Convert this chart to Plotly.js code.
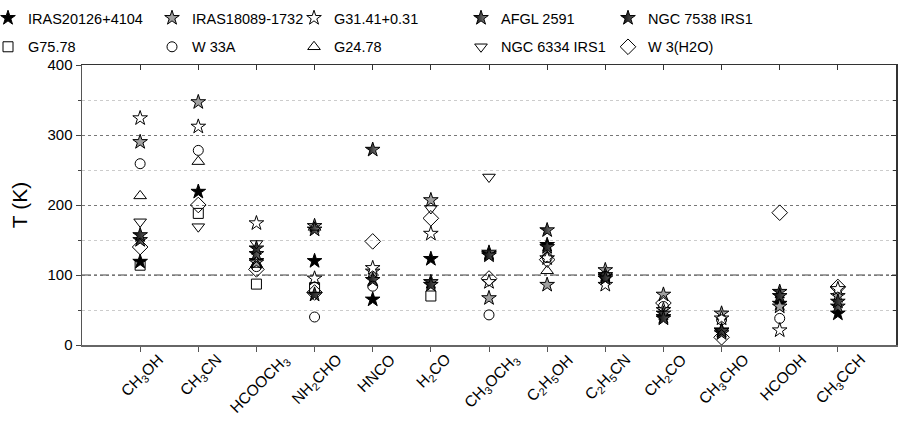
<!DOCTYPE html>
<html><head><meta charset="utf-8">
<script src="https://cdn.plot.ly/plotly-3.0.1.min.js"></script>
<style>html,body{margin:0;padding:0;background:#fff}#chart{width:899px;height:421px}</style>
</head><body><div id="chart"></div>
<script>
const categories = ["CH<sub>3</sub>OH","CH<sub>3</sub>CN","HCOOCH<sub>3</sub>","NH<sub>2</sub>CHO","HNCO","H<sub>2</sub>CO","CH<sub>3</sub>OCH<sub>3</sub>","C<sub>2</sub>H<sub>5</sub>OH","C<sub>2</sub>H<sub>5</sub>CN","CH<sub>2</sub>CO","CH<sub>3</sub>CHO","HCOOH","CH<sub>3</sub>CCH"];
const sourceNames = ["IRAS20126+4104","IRAS18089-1732","G31.41+0.31","AFGL 2591","NGC 7538 IRS1","G75.78","W 33A","G24.78","NGC 6334 IRS1","W 3(H2O)"];
const IRAS20126 = [119, 219, 120, 120, 65, 123, 130, 143, 98, 40, 21, 59, 45];
const IRAS18089 = [290, 347, 118, 170, 105, 207, 67, 86, 107, 72, 45, 55, 70];
const G31 = [324, 312, 174, 95, 110, 159, 90, 124, 86, 50, 38, 21, 80];
const AFGL2591 = [150, null, 130, 165, 279, 90, 132, 164, 100, 45, 17, 76, 55];
const NGC7538 = [157, null, 138, 72, 93, 86, 128, 140, 95, 38, 20, 70, 62];
const G75 = [114, 188, 87, 82, null, 70, null, null, null, null, null, null, null];
const W33A = [259, 278, 112, 40, 84, null, 43, 125, 98, 55, 36, 38, null];
const G24 = [213, 262, 115, 168, null, null, null, 106, null, null, null, null, null];
const NGC6334 = [176, 169, 145, null, null, 195, 240, null, null, null, null, null, null];
const W3 = [140, 200, 108, 75, 148, 181, 95, 122, null, 60, 11, 189, 83];
const yTicks = [0, 100, 200, 300, 400];

const seriesData = [IRAS20126, IRAS18089, G31, AFGL2591, NGC7538, G75, W33A, G24, NGC6334, W3];
const styles = [
  {symbol:'star', color:'#000', size:11},
  {symbol:'star', color:'#a0a0a0', size:11},
  {symbol:'star', color:'#fff', size:11},
  {symbol:'star', color:'#000', size:11, gradient:{type:'horizontal', color:'#999'}},
  {symbol:'star', color:'#000', size:11, gradient:{type:'horizontal', color:'#666'}},
  {symbol:'square-open', color:'#000', size:10},
  {symbol:'circle-open', color:'#000', size:10},
  {symbol:'triangle-up-open', color:'#000', size:11},
  {symbol:'triangle-down-open', color:'#000', size:11},
  {symbol:'diamond-open', color:'#000', size:12}
];
const legendCol = [1,2,3,4,5,1,2,3,4,5];
const xIdx = categories.map((c,i)=>i);
const traces = seriesData.map((vals, k) => {
  const st = styles[k];
  const marker = {symbol: st.symbol, size: st.size, color: st.color,
    line: {color:'#000', width:1}};
  if (st.gradient) marker.gradient = st.gradient;
  const col = legendCol[k];
  return {type:'scatter', mode:'markers', name: sourceNames[k], x: xIdx, y: vals,
    marker, legend: col === 1 ? 'legend' : 'legend' + col, legendgroup: 'g' + k,
    cliponaxis:false, hoverinfo:'skip'};
});
traces.push({type:'scatter', mode:'markers', x:[0], y:[0], xaxis:'x2', yaxis:'y2',
  marker:{opacity:0}, showlegend:false, hoverinfo:'skip'});

const FONT = 'Arial, "Liberation Sans", sans-serif';
const legendBase = {orientation:'v', xanchor:'left', yanchor:'top', y:1.225,
  font:{family:FONT, size:14.5, color:'#000'}, bgcolor:'rgba(0,0,0,0)', borderwidth:0,
  tracegroupgap:7, itemwidth:30};
const colX = [10, 174, 316, 483, 630];
const toPaperX = px => (px - 22 - 82) / 814;

const catLabels = categories.map((c, i) => ({
  xref:'x', yref:'paper', x:i, y:0, yshift:-3, xshift:3, xanchor:'center', yanchor:'top',
  text:c, textangle:-45, showarrow:false,
  font:{family:FONT, size:15.5, color:'#000'}
}));

const layout = {
  width: 899, height: 421,
  margin: {l:82, r:3, t:65, b:76, autoexpand:false},
  paper_bgcolor:'#fff', plot_bgcolor:'#fff',
  font: {family: FONT, color:'#000'},
  showlegend: true,
  xaxis: {range:[-1, 13], tickvals: xIdx, showticklabels:false, ticks:'outside', ticklen:5, tickcolor:'#555',
    showline:true, linecolor:'#666', linewidth:2, showgrid:false, zeroline:false, fixedrange:true},
  xaxis2: {range:[-1, 13], overlaying:'x', side:'top', tickvals: xIdx, showticklabels:false,
    ticks:'inside', ticklen:5, tickcolor:'#333', showline:true, linecolor:'#333', linewidth:1.5,
    showgrid:false, zeroline:false},
  yaxis: {range:[0, 400], tickvals: yTicks, ticks:'outside', ticklen:5, tickcolor:'#444',
    tickfont:{family:FONT, size:15, color:'#000'},
    showline:true, linecolor:'#555', linewidth:1.5, zeroline:false,
    showgrid:true, gridcolor:'#777', griddash:'dot', gridwidth:1,
    minor:{dtick:50, ticks:'outside', ticklen:3, tickcolor:'#444', showgrid:true, gridcolor:'#ccc', griddash:'dot', gridwidth:1},
    title:{text:'T (K)', font:{family:FONT, size:21, color:'#000'}, standoff:14}},
  yaxis2: {range:[0, 400], overlaying:'y', side:'right', tickvals: yTicks, showticklabels:false,
    ticks:'inside', ticklen:5, tickcolor:'#333', showline:true, linecolor:'#333', linewidth:1.5,
    showgrid:false, zeroline:false,
    minor:{dtick:50, ticks:'inside', ticklen:3, tickcolor:'#333'}},
  shapes: [{type:'line', xref:'paper', x0:0, x1:1, yref:'y', y0:100, y1:100,
    line:{color:'#444', width:1.2, dash:'dashdot'}, layer:'below'}],
  annotations: catLabels,
  legend: Object.assign({}, legendBase, {x: toPaperX(colX[0])}),
  legend2: Object.assign({}, legendBase, {x: toPaperX(colX[1])}),
  legend3: Object.assign({}, legendBase, {x: toPaperX(colX[2])}),
  legend4: Object.assign({}, legendBase, {x: toPaperX(colX[3])}),
  legend5: Object.assign({}, legendBase, {x: toPaperX(colX[4])})
};
Plotly.newPlot('chart', traces, layout, {staticPlot:true, displayModeBar:false});
</script></body></html>
